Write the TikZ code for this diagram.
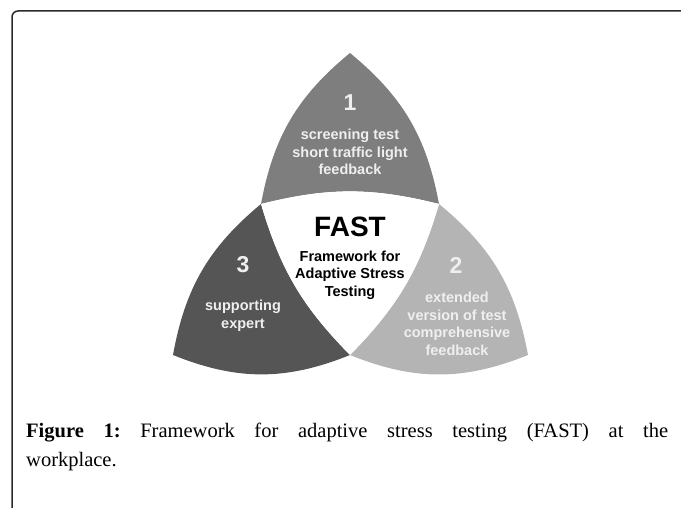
\documentclass[tikz,border=0pt]{standalone}
\usepackage{fontspec}
\setmainfont{Liberation Serif}
\setsansfont{Liberation Sans}
\usetikzlibrary{positioning}
\definecolor{lobeOne}{HTML}{7E7E7E}
\definecolor{lobeTwo}{HTML}{B4B4B4}
\definecolor{lobeThree}{HTML}{555555}
\definecolor{lobeInk}{HTML}{EFEFEF}
\definecolor{frameInk}{HTML}{2A2A2A}
\tikzset{
    frame/.style={draw=frameInk, line width=1.5pt, rounded corners=6pt},
    num/.style={font=\sffamily\bfseries\fontsize{23}{26}\selectfont, text=lobeInk, inner sep=0pt},
    lobetext/.style={font=\sffamily\bfseries\fontsize{14.5}{17.5}\selectfont, align=center, text=lobeInk, inner sep=0pt},
    hubtext/.style={font=\sffamily\bfseries\fontsize{14.5}{17.5}\selectfont, align=center, text=black, inner sep=0pt},
    caption/.style={font=\fontsize{20.5}{29}\selectfont\frenchspacing, text width=642pt, align=justify, inner sep=0pt}
}
\begin{document}
\begin{tikzpicture}[x=1pt, y=1pt]
    \def \bo {20}
    \def \bb {22}
    \def \bi {14}
    \useasboundingbox (0,0) rectangle (681,508);
    \coordinate (top) at (350,455);
    \coordinate (bl)  at (173,153);
    \coordinate (br)  at (528,153);
    \coordinate (ml)  at (261,304);
    \coordinate (mr)  at (439,304);
    \coordinate (mb)  at (350,153);
    % frame
    \draw[frame] (12,-3) |- (684,497);
    % lobes
    \fill[lobeOne]   (top) to[bend right=\bo] (ml) to[bend left=\bi] (mr) to[bend right=\bo] (top);
    \fill[lobeTwo]   (mr) to[bend left=\bo] (br) to[bend left=\bb] (mb) to[bend right=\bi] (mr);
    \fill[lobeThree] (ml) to[bend right=\bo] (bl) to[bend right=\bb] (mb) to[bend left=\bi] (ml);
    \fill[white]     (ml) to[bend left=\bi] (mr) to[bend left=\bi] (mb) to[bend left=\bi] (ml);
    % labels
    \node[num] (n1) at (350,405) {1};
    \node[lobetext] (t1) at (350,356) {screening test\\short traffic light\\feedback};
    \node[num] (n2) at (456,243) {2};
    \node[lobetext] (t2) at (457,184) {extended\\version of test\\comprehensive\\feedback};
    \node[num] (n3) at (243,243) {3};
    \node[lobetext] (t3) at (243,192) {supporting\\expert};
    \node[hubtext, font=\sffamily\bfseries\fontsize{28}{30}\selectfont] (fast) at (350,281) {FAST};
    \node[hubtext] (hub) at (350,233) {Framework for\\Adaptive Stress\\Testing};
    \node[caption, anchor=north west] (cap) at (26,85) {\textbf{Figure 1:} Framework for adaptive stress testing (FAST) at the\linebreak workplace.};
\end{tikzpicture}
\end{document}
